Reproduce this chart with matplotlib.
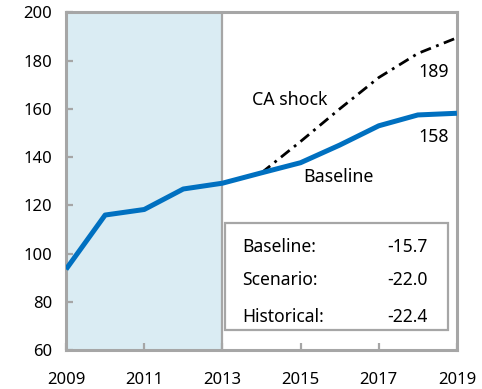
import matplotlib
matplotlib.use('Agg')
import matplotlib.pyplot as plt
from matplotlib.patches import Rectangle

plt.rcParams['font.family'] = ['Noto Sans', 'DejaVu Sans']

years = [2009, 2010, 2011, 2012, 2013, 2014, 2015, 2016, 2017, 2018, 2019]
baseline = [93.5, 116, 118.3, 126.8, 129.2, 133.5, 137.7, 145, 153, 157.5, 158.2]
shock_years = [2014, 2015, 2016, 2017, 2018, 2019]
ca_shock = [133.5, 146.5, 160, 173, 183, 189.5]

box_labels = ['Baseline:', 'Scenario:', 'Historical:']
box_values = ['-15.7', '-22.0', '-22.4']

grey = '#a6a6a6'
fig = plt.figure(figsize=(4.82, 3.89), dpi=100)
ax = fig.add_axes([0.137, 0.100, 0.811, 0.868])

# historical period shaded
ax.axvspan(2009, 2013, color='#daecf3', zorder=0, lw=0)
ax.axvline(2013, color=grey, lw=1.6, zorder=1)

ax.plot(years, baseline, color='#0070c0', lw=3.6, zorder=3, solid_capstyle='butt')
ax.plot(shock_years, ca_shock, color='black', lw=2.0, dashes=[4, 2, 1, 2], zorder=2)

# summary box
ax.add_patch(Rectangle((2013.07, 68.3), 5.7, 44.4, facecolor='white',
                       edgecolor=grey, lw=1.6, zorder=4))
for lab, val, y in zip(box_labels, box_values, [102.7, 89, 73.7]):
    ax.text(2013.5, y, lab, fontsize=12.6, va='center', ha='left', zorder=5)
    ax.text(2018.26, y, val, fontsize=12.6, va='center', ha='right', zorder=5)

ax.text(2014.73, 163.7, 'CA shock', fontsize=12.8, ha='center', va='center')
ax.text(2015.98, 131.8, 'Baseline', fontsize=12.8, ha='center', va='center')
ax.text(2018.41, 175.5, '189', fontsize=12.8, ha='center', va='center')
ax.text(2018.41, 148.5, '158', fontsize=12.8, ha='center', va='center')

ax.set_xlim(2009, 2019)
ax.set_ylim(60, 200)
ax.set_xticks(range(2009, 2020, 2))
ax.set_yticks(range(60, 201, 20))
ax.tick_params(direction='in', color=grey, width=1.6, length=5, labelsize=12)
ax.tick_params(axis='x', pad=16)
ax.tick_params(axis='y', pad=10)
for s in ax.spines.values():
    s.set_color(grey)
    s.set_linewidth(2.2)

fig.savefig('out.png', dpi=100)
